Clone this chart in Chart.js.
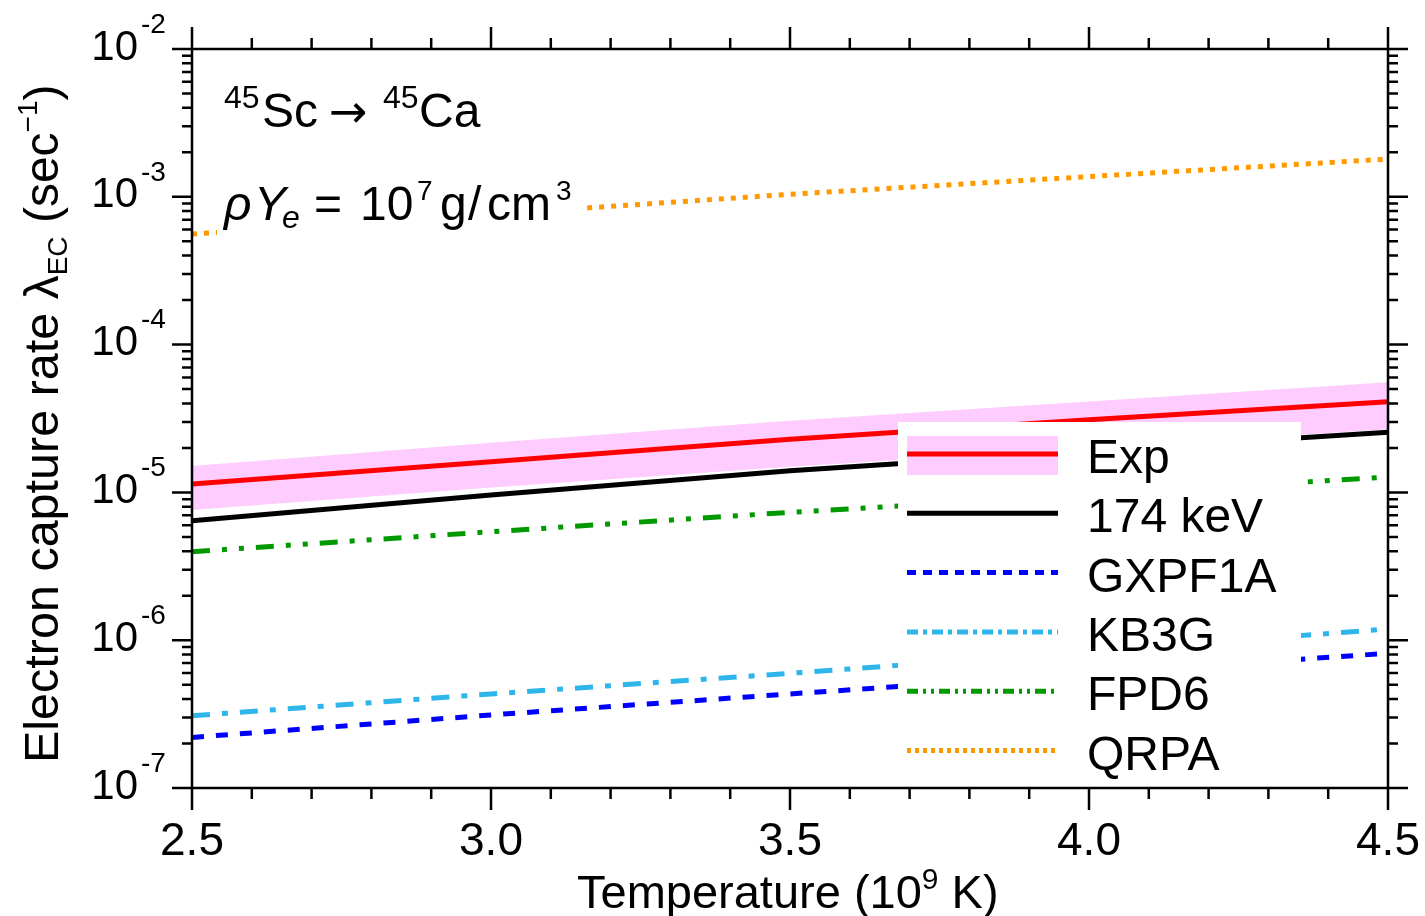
<!DOCTYPE html>
<html>
<head>
<meta charset="utf-8">
<script src="https://cdn.jsdelivr.net/npm/chart.js@4.4.1/dist/chart.umd.min.js"></script>
<style>
  html, body { margin: 0; padding: 0; background: #fff; }
  #wrap { width: 1425px; height: 916px; }
</style>
</head>
<body>
<div id="wrap"><canvas id="c" width="1425" height="916"></canvas></div>
<script>
// temperatures (10^9 K) and rates (1/s)
const temps = [2.5, 3.0, 3.5, 4.0, 4.5]
const expRate = [1.14e-5, 1.61e-5, 2.29e-5, 3.1e-5, 4.11e-5]
const expHigh = [1.51e-5, 2.17e-5, 3.05e-5, 4.12e-5, 5.56e-5]
const expLow = [7.6e-6, 1.08e-5, 1.49e-5, 2.0e-5, 2.67e-5]
const rate174 = [6.44e-6, 9.6e-6, 1.40e-5, 1.9e-5, 2.55e-5]
const gxpf1a = [2.2e-7, 3.12e-7, 4.33e-7, 5.95e-7, 8.15e-7]
const kb3g = [3.08e-7, 4.33e-7, 5.97e-7, 8.4e-7, 1.19e-6]
const fpd6 = [3.97e-6, 5.42e-6, 7.33e-6, 9.6e-6, 1.27e-5]
const qrpa = [5.6e-4, 7.6e-4, 1.04e-3, 1.37e-3, 1.80e-3]

// axis ticks
const xMajor = [2.5, 3.0, 3.5, 4.0, 4.5]
const xLabels = ["2.5", "3.0", "3.5", "4.0", "4.5"]
const xMinor = [2.6, 2.7, 2.8, 2.9, 3.1, 3.2, 3.3, 3.4, 3.6, 3.7, 3.8, 3.9, 4.1, 4.2, 4.3, 4.4]
const yMajor = [1e-7, 1e-6, 1e-5, 1e-4, 1e-3, 1e-2]
const yExpLabels = ["-7", "-6", "-5", "-4", "-3", "-2"]
const yMinorMult = [2, 3, 4, 5, 6, 7, 8, 9]

const FONT = '"Liberation Sans", Arial, Helvetica, sans-serif'
const font = (size, italic, fam) => (italic ? "italic " : "") + size + "px " + (fam || FONT)

// legend entries: label, colour, dash used in the legend sample
const legendItems = [
  { label: "Exp", color: "#ff0000", dash: [], band: true },
  { label: "174 keV", color: "#000000", dash: [] },
  { label: "GXPF1A", color: "#0000ff", dash: [9, 7] },
  { label: "KB3G", color: "#2eb6ea", dash: [11, 5, 4, 5] },
  { label: "FPD6", color: "#009900", dash: [11, 5, 3, 5, 3, 5] },
  { label: "QRPA", color: "#ff9900", dash: [4, 4] },
]

const pts = (arr) => temps.map((t, i) => ({ x: t, y: arr[i] }))
const line = (label, arr, color, dash, order) => ({
  label, data: pts(arr), borderColor: color, borderWidth: 5, borderDash: dash,
  borderCapStyle: "butt", pointRadius: 0, fill: false, tension: 0, order,
})

// draws a run of text pieces [text, size, dy, italic] starting at x
function rich(ctx, parts, x, y) {
  let cx = x
  for (const [t, s, dy, it, fam] of parts) {
    ctx.font = font(s, it, fam)
    ctx.fillText(t, cx, y + (dy || 0))
    cx += ctx.measureText(t).width
  }
  return cx
}

const decor = {
  id: "decor",
  afterDraw(chart) {
    const ctx = chart.ctx
    const { left, right, top, bottom } = chart.chartArea
    const xs = chart.scales.x, ys = chart.scales.y
    ctx.save()

    // white box behind the density label (hides the QRPA line)
    ctx.fillStyle = "#fff"
    ctx.fillRect(217, 172, 370, 75)
    // legend box
    ctx.fillRect(898, 422, 403, 364)

    ctx.fillStyle = "#000"
    ctx.textAlign = "left"
    ctx.textBaseline = "alphabetic"

    // reaction label
    rich(ctx, [["45", 32]], 224, 108)
    rich(ctx, [["Sc", 48]], 262, 127)
    rich(ctx, [["\u2192", 46, 0, false, '"DejaVu Sans", sans-serif']], 329, 127)
    rich(ctx, [["45", 32]], 383, 108)
    rich(ctx, [["Ca", 48]], 419, 127)

    // density label
    rich(ctx, [["\u03c1", 48, 0, true]], 224, 220)
    rich(ctx, [["Y", 48, 0, true]], 254, 220)
    rich(ctx, [["e", 32, 0, true]], 282, 228)
    rich(ctx, [["=", 48]], 314, 220)
    rich(ctx, [["10", 48]], 360, 220)
    rich(ctx, [["7", 28]], 417, 200)
    rich(ctx, [["g", 48]], 440, 220)
    rich(ctx, [["/", 48]], 468, 220)
    rich(ctx, [["cm", 48]], 487, 220)
    rich(ctx, [["3", 28]], 556, 200)

    // legend
    legendItems.forEach((it, i) => {
      const y = 454 + i * 59.3
      if (it.band) {
        ctx.fillStyle = "#ffccff"
        ctx.fillRect(907, y - 18, 151, 39)
      }
      ctx.beginPath()
      ctx.setLineDash(it.dash)
      ctx.lineCap = "butt"
      ctx.lineWidth = 5
      ctx.strokeStyle = it.color
      ctx.moveTo(907, y)
      ctx.lineTo(1058, y)
      ctx.stroke()
      ctx.setLineDash([])
      ctx.fillStyle = "#000"
      ctx.font = font(48)
      ctx.fillText(it.label, 1087, y + 19)
    })

    // frame
    ctx.strokeStyle = "#000"
    ctx.lineWidth = 2.5
    ctx.strokeRect(left, top, right - left, bottom - top)

    // ticks (outside on all four sides)
    ctx.beginPath()
    xMajor.forEach(v => {
      const p = xs.getPixelForValue(v)
      ctx.moveTo(p, bottom); ctx.lineTo(p, bottom + 22)
      ctx.moveTo(p, top); ctx.lineTo(p, top - 22)
    })
    xMinor.forEach(v => {
      const p = xs.getPixelForValue(v)
      ctx.moveTo(p, bottom); ctx.lineTo(p, bottom + 11)
      ctx.moveTo(p, top); ctx.lineTo(p, top - 11)
    })
    yMajor.forEach((v, i) => {
      const p = ys.getPixelForValue(v)
      ctx.moveTo(left - 20, p); ctx.lineTo(left, p)
      ctx.moveTo(right, p); ctx.lineTo(right + 20, p)
      if (i === yMajor.length - 1) return
      yMinorMult.forEach(m => {
        const q = ys.getPixelForValue(v * m)
        ctx.moveTo(left - 10, q); ctx.lineTo(left, q)
        ctx.moveTo(right, q); ctx.lineTo(right + 10, q)
      })
    })
    ctx.stroke()

    // y tick labels 10^n
    yMajor.forEach((v, i) => {
      const p = ys.getPixelForValue(v)
      ctx.font = font(42)
      ctx.textAlign = "right"
      ctx.textBaseline = "middle"
      ctx.fillText("10", 138, p - 1)
      ctx.font = font(28)
      ctx.textAlign = "left"
      ctx.fillText(yExpLabels[i], 141, p - 24)
    })

    // x tick labels
    ctx.font = font(46)
    ctx.textAlign = "center"
    ctx.textBaseline = "middle"
    xMajor.forEach((v, i) => {
      ctx.fillText(xLabels[i], xs.getPixelForValue(v), 842)
    })

    // x axis title
    ctx.textAlign = "left"
    ctx.textBaseline = "alphabetic"
    rich(ctx, [["Temperature (10", 47], ["9", 30, -19], [" K)", 47]], 577, 908)

    // y axis title (rotated)
    ctx.translate(58, 763)
    ctx.rotate(-Math.PI / 2)
    rich(ctx, [["Electron capture rate ", 48.5], ["\u03bb", 48], ["EC", 28, 9], [" (sec", 48], ["\u22121", 28, -21], [")", 48]], 0, 0)

    ctx.restore()
  },
}

new Chart(document.getElementById("c"), {
  type: "line",
  data: {
    datasets: [
      { label: "Exp band", data: pts(expHigh), borderColor: "rgba(0,0,0,0)", borderWidth: 0,
        pointRadius: 0, backgroundColor: "#ffccff", fill: "+1", order: 10 },
      { label: "Exp low", data: pts(expLow), borderColor: "rgba(0,0,0,0)", borderWidth: 0,
        pointRadius: 0, fill: false, order: 11 },
      line("QRPA", qrpa, "#ff9900", [5, 7], 6),
      line("FPD6", fpd6, "#009900", [18, 12, 5, 12, 5, 12], 5),
      line("KB3G", kb3g, "#2eb6ea", [18, 12, 6, 12], 4),
      line("GXPF1A", gxpf1a, "#0000ff", [12, 12], 3),
      line("174 keV", rate174, "#000000", [], 2),
      line("Exp", expRate, "#ff0000", [], 1),
    ],
  },
  options: {
    responsive: false,
    animation: false,
    devicePixelRatio: 1,
    layout: { padding: { left: 192, right: 37, top: 49, bottom: 128 } },
    plugins: { legend: { display: false }, tooltip: { enabled: false } },
    scales: {
      x: { type: "linear", min: 2.5, max: 4.5, display: false },
      y: { type: "logarithmic", min: 1e-7, max: 1e-2, display: false },
    },
  },
  plugins: [decor],
})
</script>
</body>
</html>
